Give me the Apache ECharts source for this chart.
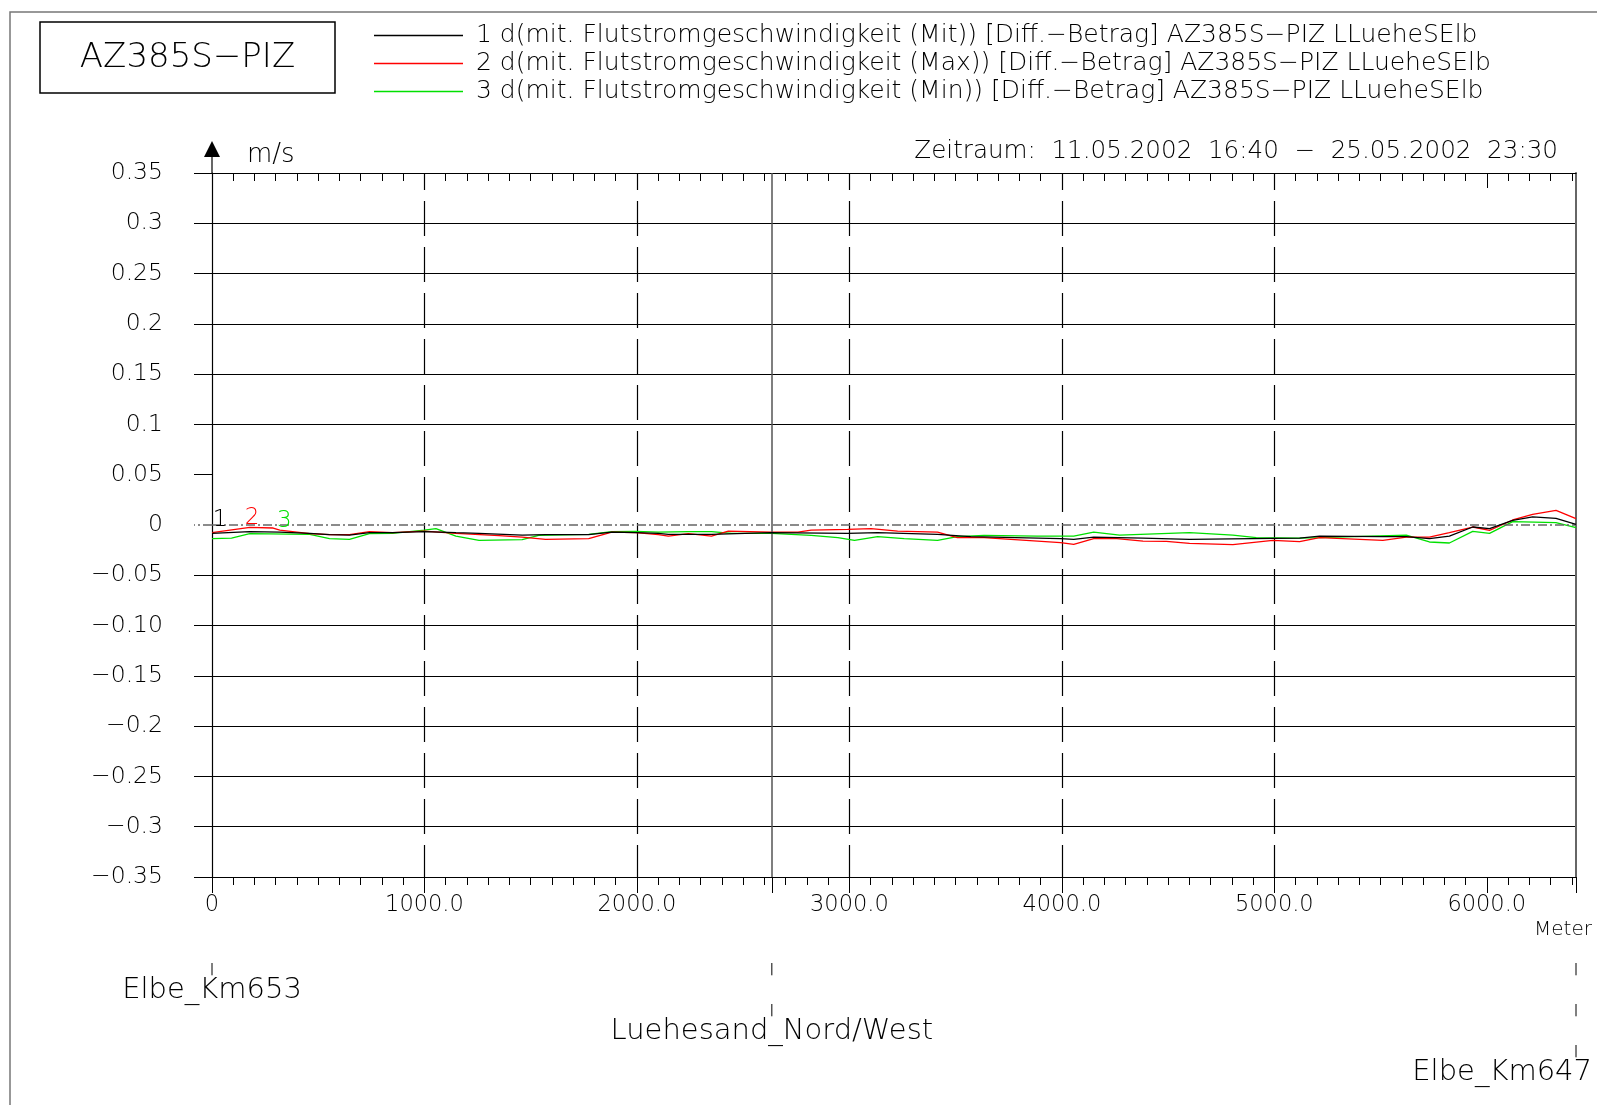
<!DOCTYPE html>
<html>
<head>
<meta charset="UTF-8">
<title>AZ385S-PIZ Differenz Flutstromgeschwindigkeit</title>
<script src="https://cdn.jsdelivr.net/npm/echarts@6/dist/echarts.min.js"></script>
<style>
html, body { margin: 0; padding: 0; background: #fff; }
#chart { width: 1597px; height: 1105px; }
</style>
</head>
<body>
<div id="chart"></div>
<script>
// Daten: [Meter, m/s]
var seriesNames = [
    '1 d(mit. Flutstromgeschwindigkeit (Mit)) [Diff.\u2212Betrag] AZ385S\u2212PIZ LLueheSElb',
    '2 d(mit. Flutstromgeschwindigkeit (Max)) [Diff.\u2212Betrag] AZ385S\u2212PIZ LLueheSElb',
    '3 d(mit. Flutstromgeschwindigkeit (Min)) [Diff.\u2212Betrag] AZ385S\u2212PIZ LLueheSElb'
];
var seriesColors = ['#000000', '#ff0000', '#00e000'];

var mitData = [[0,-0.0083],[178,-0.0066],[319,-0.0070],[460,-0.0083],[553,-0.0096],[647,-0.0100],[741,-0.0076],[850,-0.0076],[999,-0.0066],[1148,-0.0076],[1257,-0.0083],[1460,-0.0100],[1570,-0.0096],[1773,-0.0096],[1882,-0.0070],[1995,-0.0076],[2101,-0.0083],[2148,-0.0093],[2351,-0.0093],[2628,-0.0076],[2992,-0.0083],[3133,-0.0076],[3415,-0.0093],[3571,-0.0116],[3994,-0.0136],[4056,-0.0143],[4150,-0.0120],[4382,-0.0130],[4601,-0.0143],[4993,-0.0133],[5119,-0.0130],[5213,-0.0110],[5511,-0.0116],[5621,-0.0116],[5730,-0.0136],[5824,-0.0110],[5934,-0.0020],[6013,-0.0037],[6122,0.0047],[6216,0.0080],[6326,0.0066],[6420,0.0007]];

var maxData = [[0,-0.0076],[178,-0.0023],[288,-0.0030],[319,-0.0050],[460,-0.0086],[553,-0.0096],[647,-0.0096],[741,-0.0066],[850,-0.0076],[999,-0.0060],[1148,-0.0083],[1351,-0.0106],[1460,-0.0120],[1570,-0.0143],[1773,-0.0136],[1882,-0.0070],[1995,-0.0076],[2101,-0.0096],[2148,-0.0110],[2242,-0.0086],[2351,-0.0110],[2430,-0.0060],[2633,-0.0070],[2758,-0.0070],[2820,-0.0050],[2992,-0.0043],[3102,-0.0037],[3227,-0.0060],[3415,-0.0070],[3508,-0.0126],[3634,-0.0126],[3994,-0.0176],[4056,-0.0193],[4150,-0.0136],[4259,-0.0136],[4382,-0.0160],[4492,-0.0163],[4601,-0.0183],[4805,-0.0196],[4993,-0.0153],[5119,-0.0166],[5213,-0.0126],[5511,-0.0153],[5621,-0.0120],[5730,-0.0120],[5824,-0.0076],[5934,-0.0020],[6013,-0.0053],[6122,0.0050],[6216,0.0106],[6326,0.0146],[6420,0.0063]];

var minData = [[0,-0.0136],[92,-0.0130],[178,-0.0086],[460,-0.0093],[553,-0.0136],[647,-0.0143],[741,-0.0086],[850,-0.0083],[999,-0.0050],[1054,-0.0037],[1148,-0.0110],[1257,-0.0153],[1460,-0.0146],[1538,-0.0103],[1773,-0.0093],[1882,-0.0066],[1995,-0.0063],[2101,-0.0070],[2242,-0.0066],[2351,-0.0066],[2445,-0.0083],[2633,-0.0083],[2820,-0.0103],[2946,-0.0126],[3024,-0.0153],[3133,-0.0116],[3258,-0.0136],[3415,-0.0153],[3508,-0.0116],[3634,-0.0103],[3884,-0.0110],[4056,-0.0110],[4150,-0.0070],[4272,-0.0100],[4601,-0.0076],[4805,-0.0100],[4915,-0.0126],[5119,-0.0130],[5213,-0.0126],[5621,-0.0100],[5730,-0.0169],[5824,-0.0179],[5934,-0.0063],[6013,-0.0083],[6122,0.0033],[6326,0.0023],[6420,-0.0027]];

// Achsen
var yTicks = [-0.35,-0.3,-0.25,-0.2,-0.15,-0.1,-0.05,0,0.05,0.1,0.15,0.2,0.25,0.3,0.35];
var yTickLabels = ['\u22120.35','\u22120.3','\u22120.25','\u22120.2','\u22120.15','\u22120.10','\u22120.05','0','0.05','0.1','0.15','0.2','0.25','0.3','0.35'];
var xMajor = [0,1000,2000,3000,4000,5000,6000];
var xTickLabels = ['0','1000.0','2000.0','3000.0','4000.0','5000.0','6000.0'];
var xEnd = 6420;
var luehesandPos = 2635;

// Stationen: [Meter, Name, Zeile]
var stations = [[0,'Elbe_Km653',0],[luehesandPos,'Luehesand_Nord/West',1],[xEnd,'Elbe_Km647',2]];

var FONT = 'DejaVu Sans';
var W = 200; // duenne Schrift wie im Plot

var minorTicks = [];
for (var m = 0; m <= 6400; m += 100) minorTicks.push(m);

var yTicksNoZero = yTicks.filter(function (v) { return v !== 0; });
var splitColors = yTicks.map(function (v) { return v === 0 ? 'rgba(0,0,0,0)' : '#000'; });

var tagX = [38, 188, 340];
var tagY = [0.0046, 0.0065, 0.0042];

function font(size) { return W + ' ' + size + 'px "' + FONT + '"'; }

var myChart = echarts.init(document.getElementById('chart'));

function plainAxis(extra) {
    var a = {
        type: 'value', gridIndex: 0, min: 0, max: xEnd,
        axisLine: { show: false, onZero: false },
        axisTick: { show: false },
        axisLabel: { show: false },
        splitLine: { show: false }
    };
    for (var k in extra) a[k] = extra[k];
    return a;
}

var series = [mitData, maxData, minData].map(function (d, i) {
    return {
        name: seriesNames[i],
        type: 'line',
        data: d,
        xAxisIndex: 0,
        yAxisIndex: 0,
        symbol: 'none',
        color: seriesColors[i],
        lineStyle: { width: 1.3, color: seriesColors[i] },
        z: 5 - i,
        markPoint: {
            silent: true,
            symbol: 'circle',
            symbolSize: 0,
            data: [{ coord: [tagX[i], tagY[i]] }],
            label: {
                show: true, position: 'inside', formatter: String(i + 1),
                color: seriesColors[i], fontSize: 23, fontFamily: FONT, fontWeight: W
            }
        }
    };
});

series[0].markLine = {
    silent: true,
    symbol: 'none',
    label: { show: false },
    data: [
        { xAxis: luehesandPos, lineStyle: { color: '#555', width: 1.5, type: 'solid' } },
        { yAxis: 0, lineStyle: { color: '#666', width: 1.5, type: [9, 3, 2, 3] } }
    ]
};

series.push({
    type: 'custom',
    xAxisIndex: 5,
    yAxisIndex: 3,
    data: stations,
    encode: { x: 0, y: 2 },
    silent: true,
    renderItem: function (params, api) {
        var x = api.value(0), row = api.value(2);
        var kids = [];
        for (var j = 0; j <= row; j++) {
            var p1 = api.coord([x, j]), p2 = api.coord([x, j + 0.3]);
            kids.push({ type: 'line', shape: { x1: p1[0], y1: p1[1], x2: p2[0], y2: p2[1] },
                style: { stroke: '#000', lineWidth: 1 } });
        }
        var pt = api.coord([x, row + 0.66]);
        var nearEdge = pt[0] > api.getWidth() - 150;
        kids.push({ type: 'text', x: nearEdge ? api.getWidth() - 5 : pt[0], y: pt[1],
            style: { text: stations[params.dataIndex][1], fill: '#000', font: font(29),
                align: nearEdge ? 'right' : 'center', verticalAlign: 'middle' } });
        return { type: 'group', children: kids };
    }
});

var option = {
    animation: false,
    backgroundColor: '#fff',
    textStyle: { fontFamily: FONT, fontWeight: W, color: '#000' },
    legend: {
        orient: 'vertical', left: 369, top: 18,
        icon: 'rect',
        itemWidth: 89, itemHeight: 1.4, itemGap: 3,
        selectedMode: false,
        data: seriesNames,
        textStyle: { fontSize: 25, lineHeight: 25, color: '#000', fontFamily: FONT, fontWeight: W, padding: [0, 0, 0, 8] }
    },
    grid: [
        { left: 212, top: 173, width: 1364, height: 704 },
        { left: 212, top: 963, width: 1364, height: 123 }
    ],
    xAxis: [
        // unten: kleine Striche + Beschriftung
        plainAxis({
            position: 'bottom',
            axisLine: { show: true, onZero: false, lineStyle: { color: '#000', width: 1.2 } },
            axisTick: { show: true, customValues: minorTicks, length: 8, lineStyle: { color: '#000' } },
            axisLabel: {
                show: true, customValues: xMajor, margin: 17, fontSize: 22.5, color: '#000', fontFamily: FONT, fontWeight: W,
                formatter: function (v) { var i = xMajor.indexOf(v); return i < 0 ? '' : xTickLabels[i]; }
            }
        }),
        // unten: lange Striche
        plainAxis({
            position: 'bottom',
            axisTick: { show: true, customValues: xMajor.concat([luehesandPos, xEnd]), length: 16, lineStyle: { color: '#000' } }
        }),
        // oben: kleine Striche
        plainAxis({
            position: 'top',
            axisLine: { show: true, onZero: false, lineStyle: { color: '#000', width: 1.2 } },
            axisTick: { show: true, inside: true, customValues: minorTicks, length: 8, lineStyle: { color: '#000' } }
        }),
        // oben: lange Striche + gestrichelte Gitterlinien
        plainAxis({
            position: 'top',
            interval: 1000,
            axisTick: { show: true, inside: true, customValues: xMajor, length: 15, lineStyle: { color: '#000' } },
            splitLine: {
                show: true, showMinLine: false, showMaxLine: false,
                lineStyle: { color: '#000', width: 1.2, type: [35, 11], dashOffset: 18 }
            }
        }),
        plainAxis({ position: 'top' }),
        // Stationen
        { type: 'value', gridIndex: 1, min: 0, max: xEnd, show: false }
    ],
    yAxis: [
        {
            type: 'value', gridIndex: 0, min: -0.35, max: 0.35, interval: 0.05, position: 'left',
            axisLine: { show: true, onZero: false, lineStyle: { color: '#000', width: 1.2 } },
            axisTick: { show: true, customValues: yTicksNoZero, length: 18, lineStyle: { color: '#000' } },
            axisLabel: {
                margin: 49, fontSize: 23.5, color: '#000', fontFamily: FONT, fontWeight: W,
                formatter: function (v) { return yTickLabels[Math.round((v + 0.35) / 0.05)]; }
            },
            splitLine: { show: true, lineStyle: { color: splitColors, width: 1 } }
        },
        {
            type: 'value', gridIndex: 0, min: -0.35, max: 0.35, position: 'left',
            axisLine: { show: false, onZero: false },
            axisTick: { show: true, customValues: [0], length: 18, lineStyle: { color: '#666', width: 1.5, type: [9, 3, 2, 3] } },
            axisLabel: { show: false },
            splitLine: { show: false }
        },
        {
            type: 'value', gridIndex: 0, min: -0.35, max: 0.35, position: 'right',
            axisLine: { show: true, onZero: false, lineStyle: { color: '#666', width: 2 } },
            axisTick: { show: false }, axisLabel: { show: false }, splitLine: { show: false }
        },
        { type: 'value', gridIndex: 1, min: 0, max: 3, inverse: true, show: false }
    ],
    graphic: [
        // Rahmen
        { type: 'polyline', silent: true, shape: { points: [[10, 1105], [10, 12], [1597, 12]] },
          style: { stroke: '#777', lineWidth: 1.5, fill: null } },
        // Titelkasten
        { type: 'rect', silent: true, shape: { x: 40, y: 22, width: 295, height: 71 },
          style: { stroke: '#000', lineWidth: 1.5, fill: null } },
        { type: 'text', silent: true, x: 187.5, y: 58,
          style: { text: 'AZ385S\u2212PIZ', font: font(34), fill: '#000', align: 'center', verticalAlign: 'middle' } },
        { type: 'text', silent: true, x: 1558, y: 152,
          style: { text: 'Zeitraum:  11.05.2002  16:40  \u2212  25.05.2002  23:30', font: font(24.6), fill: '#000', align: 'right', verticalAlign: 'middle' } },
        // Pfeil der y-Achse
        { type: 'polygon', silent: true, shape: { points: [[212, 141], [204, 157], [220, 157]] }, style: { fill: '#000' } },
        { type: 'line', silent: true, shape: { x1: 212, y1: 157, x2: 212, y2: 173 }, style: { stroke: '#000', lineWidth: 1.2 } },
        { type: 'text', silent: true, x: 247, y: 155,
          style: { text: 'm/s', font: font(26), fill: '#000', align: 'left', verticalAlign: 'middle' } },
        { type: 'text', silent: true, x: 1563, y: 930,
          style: { text: 'Meter', font: font(20), fill: '#000', align: 'center', verticalAlign: 'middle' } }
    ],
    series: series
};

myChart.setOption(option);
</script>
</body>
</html>
